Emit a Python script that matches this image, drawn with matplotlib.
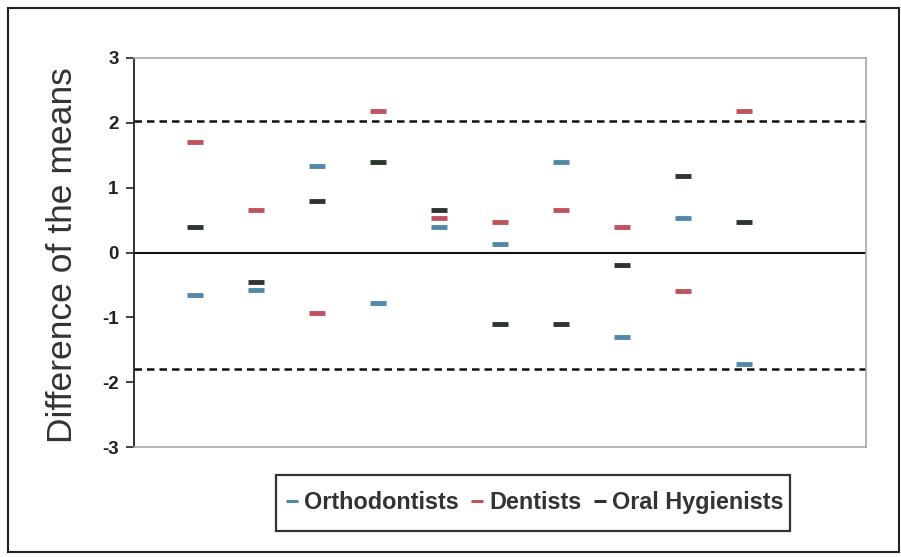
import matplotlib
matplotlib.use("Agg")
import matplotlib.pyplot as plt
from matplotlib.lines import Line2D
from matplotlib.patches import Rectangle

plt.rcParams['font.family'] = ['Liberation Sans', 'DejaVu Sans']

groups = [1, 2, 3, 4, 5, 6, 7, 8, 9, 10]
orthodontists = [-0.65, -0.58, 1.33, -0.78, 0.40, 0.135, 1.39, -1.31, 0.53, -1.72]
dentists = [1.71, 0.66, -0.93, 2.19, 0.53, 0.47, 0.66, 0.39, -0.59, 2.19]
hygienists = [0.40, -0.45, 0.80, 1.39, 0.66, -1.10, -1.10, -0.20, 1.18, 0.47]
upper_limit = 2.03
lower_limit = -1.80
series_names = ["Orthodontists", "Dentists", "Oral Hygienists"]
yticks = [-3, -2, -1, 0, 1, 2, 3]

c_orth = '#5289a8'
c_dent = '#c0525e'
c_hyg = '#2e352f'

W, H = 901, 557
fig = plt.figure(figsize=(W / 100, H / 100), dpi=100)
fig.patch.set_facecolor('white')

# outer frame
fig.patches.append(Rectangle((8 / W, 1 - 552 / H), (899 - 8) / W, (552 - 8) / H,
                             transform=fig.transFigure, fill=False,
                             edgecolor='#222222', linewidth=1.5))

left, right, top, bottom = 134, 866, 58, 447
ax = fig.add_axes([left / W, 1 - bottom / H, (right - left) / W, (bottom - top) / H])

ax.set_xlim(0, 12)
ax.set_ylim(-3, 3)

ax.axhline(0, color='#111111', linewidth=1.5, zorder=2)
ax.axhline(upper_limit, color='#111111', linewidth=1.8, linestyle=(0, (3, 2)), zorder=2)
ax.axhline(lower_limit, color='#111111', linewidth=1.8, linestyle=(0, (3, 2)), zorder=2)

mk = dict(marker='_', markersize=12, markeredgewidth=3.5, linestyle='none', zorder=3)
ax.plot(groups, orthodontists, color=c_orth, **mk)
ax.plot(groups, dentists, color=c_dent, **mk)
ax.plot(groups, hygienists, color=c_hyg, **mk)

ax.set_xticks([])
ax.set_yticks(yticks)
ax.set_yticklabels([str(t) for t in yticks], fontsize=13.5, fontweight='bold', color='#222222')
ax.tick_params(axis='y', direction='out', length=6, width=1.2, pad=5, color='#222222')

for s in ['top', 'right', 'bottom']:
    ax.spines[s].set_color('#a8a8a8')
    ax.spines[s].set_linewidth(1.2)
ax.spines['left'].set_color('#222222')
ax.spines['left'].set_linewidth(1.3)

fig.text(63 / W, 1 - 255 / H, "Difference of the means", rotation=90,
         ha='center', va='center', fontsize=25.5, color='#333333')

# legend box
fig.patches.append(Rectangle((276 / W, 1 - 531 / H), (790 - 276) / W, (531 - 475) / H,
                             transform=fig.transFigure, fill=False,
                             edgecolor='#333333', linewidth=1.6))
handles = [Line2D([], [], color=c, marker='_', markersize=8, markeredgewidth=2.2, linestyle='none')
           for c in (c_orth, c_dent, c_hyg)]
leg = fig.legend(handles, series_names, loc='center', bbox_to_anchor=(535 / W, 1 - 503 / H),
                 ncol=3, frameon=False, handlelength=0.45, handletextpad=0.3,
                 columnspacing=0.55, prop={'weight': 'bold', 'size': 16.8})
for t in leg.get_texts():
    t.set_color('#333333')

fig.savefig('out.png', dpi=100, facecolor='white')
